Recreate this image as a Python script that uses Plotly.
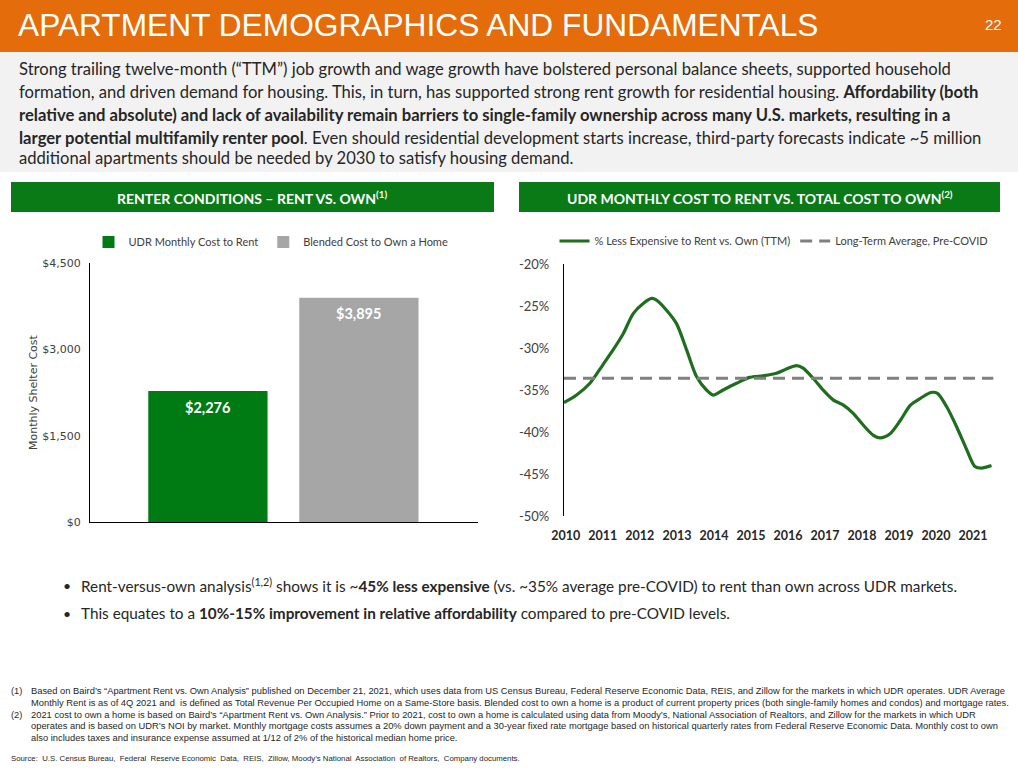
import plotly.graph_objects as go

W, H = 1018, 768

# ---------------- data ----------------
bar_series = ["UDR Monthly Cost to Rent", "Blended Cost to Own a Home"]
bar_values = [2276, 3895]
bar_colors = ["#007A12", "#A6A6A6"]

bar_y_ticks = [0, 1500, 3000, 4500]
bar_y_ticklabels = ["$0", "$1,500", "$3,000", "$4,500"]

line_years = [2009.95, 2010.29, 2010.65, 2011.0, 2011.28, 2011.55, 2011.82, 2012.09, 2012.32, 2012.45,
              2012.72, 2012.99, 2013.26, 2013.53, 2013.8, 2013.98, 2014.25, 2014.61, 2014.97, 2015.33,
              2015.69, 2015.96, 2016.23, 2016.41, 2016.68, 2016.95, 2017.23, 2017.5, 2017.77, 2018.04,
              2018.31, 2018.49, 2018.76, 2019.04, 2019.31, 2019.58, 2019.86, 2020.04, 2020.29, 2020.56,
              2020.83, 2021.05, 2021.23, 2021.5]
line_values = [-36.5, -35.6, -34.2, -32.0, -30.2, -28.3, -25.9, -24.7, -24.1, -24.3,
               -25.5, -27.1, -30.2, -33.4, -35.0, -35.6, -35.0, -34.2, -33.5, -33.3,
               -33.0, -32.5, -32.1, -32.4, -33.6, -35.0, -36.2, -36.8, -37.8, -39.2,
               -40.4, -40.7, -40.2, -38.6, -36.8, -36.0, -35.3, -35.4, -37.0, -39.4,
               -42.1, -44.1, -44.3, -44.0]
avg_years = [2009.95, 2021.55]
avg_values = [-33.6, -33.6]

x_tick_years = list(range(2010, 2022))
y_ticks_pct = [-20, -25, -30, -35, -40, -45, -50]

# ---------------- helpers ----------------
def px(x):
    return x / W

def py(y):
    return 1 - y / H

ORANGE = "#E46C0A"
GREEN = "#0A7A17"
BODY = "Lato, Open Sans, sans-serif"
NARROW = "Liberation Sans Narrow, Arial Narrow, Liberation Sans, sans-serif"

fig = go.Figure()

# Left bar chart
for i, (name, val, col) in enumerate(zip(bar_series, bar_values, bar_colors)):
    fig.add_trace(go.Bar(
        x=[i], y=[val], name=name, marker=dict(color=col, line=dict(width=0)),
        width=0.79, xaxis="x", yaxis="y", legend="legend", hoverinfo="skip",
    ))

# Right line chart
fig.add_trace(go.Scatter(
    x=line_years, y=line_values, mode="lines", name="% Less Expensive to Rent vs. Own (TTM)",
    line=dict(color="#1E6E1E", width=3.2, shape="spline", smoothing=0.8),
    xaxis="x2", yaxis="y2", legend="legend2", hoverinfo="skip",
))
fig.add_trace(go.Scatter(
    x=avg_years, y=avg_values, mode="lines", name="Long-Term Average, Pre-COVID",
    line=dict(color="#808080", width=3, dash="12px,7px"),
    xaxis="x2", yaxis="y2", legend="legend2", hoverinfo="skip",
))

shapes = [
    dict(type="rect", xref="paper", yref="paper", x0=0, x1=1, y0=py(52), y1=1,
         fillcolor=ORANGE, line=dict(width=0), layer="below"),
    dict(type="rect", xref="paper", yref="paper", x0=0, x1=1, y0=py(172), y1=py(52),
         fillcolor="#F2F2F2", line=dict(width=0), layer="below"),
    dict(type="rect", xref="paper", yref="paper", x0=px(11), x1=px(494), y0=py(212), y1=py(182),
         fillcolor=GREEN, line=dict(width=0), layer="below"),
    dict(type="rect", xref="paper", yref="paper", x0=px(519), x1=px(1000), y0=py(212), y1=py(182),
         fillcolor=GREEN, line=dict(width=0), layer="below"),
]

ann = []

def add(text, x, y, xanchor="left", size=14, color="#262626", family=BODY, **kw):
    ann.append(dict(text=text, x=px(x), y=py(y), xref="paper", yref="paper", xanchor=xanchor,
                    yanchor="middle", showarrow=False, font=dict(color=color, size=size, family=family), **kw))

# value labels inside bars (positioned by data through the axes)
for i, val in enumerate(bar_values):
    ann.append(dict(text=f"<b>${val:,}</b>", x=i, y=val, xref="x", yref="y", xanchor="center",
                    yanchor="middle", yshift=-16, showarrow=False,
                    font=dict(color="white", size=14.5, family=BODY)))

add("APARTMENT DEMOGRAPHICS AND FUNDAMENTALS", 16, 25, size=31.7, color="white", family=NARROW)
add("22", 1004, 24, xanchor="right", size=15, color="white", family=NARROW)

para = [
    "Strong trailing twelve-month (\u201cTTM\u201d) job growth and wage growth have bolstered personal balance sheets, supported household",
    "formation, and driven demand for housing. This, in turn, has supported strong rent growth for residential housing. <b>Affordability (both</b>",
    "<b>relative and absolute) and lack of availability remain barriers to single-family ownership across many U.S. markets, resulting in a</b>",
    "<b>larger potential multifamily renter pool</b>. Even should residential development starts increase, third-party forecasts indicate ~5 million",
    "additional apartments should be needed by 2030 to satisfy housing demand.",
]
para_y = [69, 92, 115, 138, 158]
for t, yy in zip(para, para_y):
    add(t, 17, yy, size=16.6)

add("<b>RENTER CONDITIONS \u2013 RENT VS. OWN<sup>(1)</sup></b>", 252, 197, xanchor="center", size=14, color="white")
add("<b>UDR MONTHLY COST TO RENT VS. TOTAL COST TO OWN<sup>(2)</sup></b>", 760, 197, xanchor="center", size=14, color="white")

add("Monthly Shelter Cost", 33, 392, xanchor="center", size=11, color="#404040", family="DejaVu Sans", textangle=-90)

bullets = [
    "Rent-versus-own analysis<sup>(1,2)</sup> shows it is ~<b>45% less expensive</b> (vs. ~35% average pre-COVID) to rent than own across UDR markets.",
    "This equates to a <b>10%-15% improvement in relative affordability</b> compared to pre-COVID levels.",
]
for t, yy in zip(bullets, [585, 613]):
    add("\u2022", 61, yy, size=14)
    add(t, 79, yy, size=15.3)

foot = [
    ("(1)", "Based on Baird\u2019s \u201cApartment Rent vs. Own Analysis\u201d published on December 21, 2021, which uses data from US Census Bureau, Federal Reserve Economic Data, REIS, and Zillow for the markets in which UDR operates. UDR Average"),
    ("", "Monthly Rent is as of 4Q 2021 and  is defined as Total Revenue Per Occupied Home on a Same-Store basis. Blended cost to own a home is a product of current property prices (both single-family homes and condos) and mortgage rates."),
    ("(2)", "2021 cost to own a home is based on Baird\u2019s \u201cApartment Rent vs. Own Analysis.\u201d Prior to 2021, cost to own a home is calculated using data from Moody\u2019s, National Association of Realtors, and Zillow for the markets in which UDR"),
    ("", "operates and is based on UDR\u2019s NOI by market. Monthly mortgage costs assumes a 20% down payment and a 30-year fixed rate mortgage based on historical quarterly rates from Federal Reserve Economic Data. Monthly cost to own"),
    ("", "also includes taxes and insurance expense assumed at 1/12 of 2% of the historical median home price."),
]
for (lab, t), yy in zip(foot, [691, 703, 715, 726, 738]):
    if lab:
        add(lab, 9, yy, size=9.3, family=NARROW)
    add(t, 29, yy, size=9.35, family=NARROW)
add("Source:  U.S. Census Bureau,  Federal  Reserve Economic  Data,  REIS,  Zillow, Moody\u2019s National  Association  of Realtors,  Company documents.",
    9, 758, size=7.8, family=NARROW)

fig.update_layout(
    width=W, height=H, margin=dict(l=0, r=0, t=0, b=0, autoexpand=False),
    paper_bgcolor="white", plot_bgcolor="white",
    barmode="overlay", showlegend=True,
    shapes=shapes, annotations=ann,
    xaxis=dict(domain=[px(90), px(478)], range=[-0.781, 1.789], showticklabels=False, showgrid=False,
               zeroline=False, showline=True, linecolor="black", linewidth=1.2, ticks="", fixedrange=True),
    yaxis=dict(domain=[py(522), py(263)], range=[0, 4500], tickvals=bar_y_ticks, ticktext=bar_y_ticklabels,
               showgrid=False, zeroline=False, showline=True, linecolor="black", linewidth=1.2, ticks="",
               tickfont=dict(size=11, color="#404040", family="DejaVu Sans"), ticklabelstandoff=6),
    xaxis2=dict(domain=[px(564), px(1000)], range=[2009.95, 2021.73], tickvals=x_tick_years,
                ticktext=[str(v) for v in x_tick_years], showgrid=False, zeroline=False, showline=False,
                ticks="", anchor="y2", ticklabelstandoff=10,
                tickfont=dict(size=12.5, color="#262626", family=BODY, weight="bold")),
    yaxis2=dict(domain=[py(516), py(264)], range=[-50, -20], tickvals=y_ticks_pct,
                ticktext=[f"{v}%" for v in y_ticks_pct], showgrid=False, zeroline=False, showline=True,
                linecolor="black", linewidth=1.2, ticks="", anchor="x2",
                tickfont=dict(size=13, color="#404040", family=BODY), ticklabelstandoff=11),
    legend=dict(x=px(271), y=py(242), xanchor="center", yanchor="middle", orientation="h",
                font=dict(size=11, color="#404040", family=BODY), bgcolor="rgba(0,0,0,0)",
                itemwidth=30, tracegroupgap=0),
    legend2=dict(x=px(774), y=py(241), xanchor="center", yanchor="middle", orientation="h",
                 font=dict(size=11, color="#404040", family=BODY), bgcolor="rgba(0,0,0,0)",
                 itemwidth=30),
)

fig.write_html("out.html", config={"displayModeBar": False},
               post_script="document.body.style.margin='0px';document.body.style.padding='0px';")
